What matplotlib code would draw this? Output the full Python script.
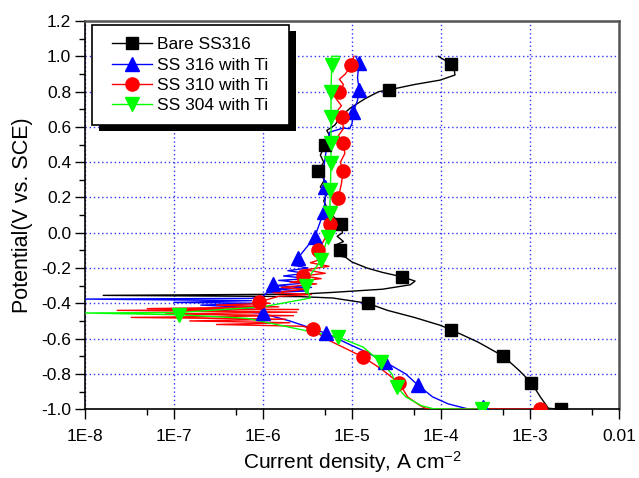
import numpy as np
import matplotlib
matplotlib.use("Agg")
import matplotlib.pyplot as plt
from matplotlib.lines import Line2D
from matplotlib.patches import Rectangle

# Potentiodynamic polarization curves: current density (A cm^-2) vs potential (V vs SCE)
series_labels = ["Bare SS316", "SS 316 with Ti", "SS 310 with Ti", "SS 304 with Ti"]

bare_line_i = [2.2e-3, 1.6e-3, 1.3e-3, 1.03e-3, 7.5e-4, 5.0e-4, 2.6e-4, 1.3e-4, 9.7e-5,
               5.0e-5, 2.5e-5, 1.5e-5, 6.1e-6, 2.6e-6, 1.6e-8, 2.6e-6, 6.1e-6, 2.2e-5,
               4.5e-5, 5.1e-5, 3.65e-5, 2.2e-5, 1.47e-5, 1.0e-5, 8.5e-6, 6.5e-6, 8.0e-6,
               7.4e-6, 6.5e-6, 8.0e-6, 6.8e-6, 7.8e-6, 7.5e-6, 6.5e-6, 5.5e-6, 4.8e-6,
               5.2e-6, 4.4e-6, 4.9e-6, 4.15e-6, 4.8e-6, 4.4e-6, 5.0e-6, 5.6e-6, 5.2e-6,
               6.4e-6, 7.5e-6, 9.5e-6, 1.4e-5, 2.0e-5, 2.6e-5, 5.0e-5, 9.7e-5, 1.43e-4,
               1.4e-4, 1.3e-4, 9.3e-5]
bare_line_e = [-1.0, -0.995, -0.93, -0.85, -0.78, -0.70, -0.62, -0.55, -0.524,
               -0.48, -0.44, -0.40, -0.37, -0.362, -0.355, -0.348, -0.338, -0.32,
               -0.295, -0.274, -0.25, -0.225, -0.20, -0.166, -0.14, -0.125, -0.115,
               -0.10, -0.07, -0.05, -0.02, 0.0, 0.05, 0.08, 0.12, 0.18,
               0.22, 0.26, 0.30, 0.35, 0.40, 0.44, 0.50, 0.55, 0.58,
               0.61, 0.66, 0.706, 0.76, 0.80, 0.81, 0.84, 0.865, 0.894,
               0.93, 0.956, 1.0]
bare_mark_i = [2.2e-3, 1.03e-3, 5.0e-4, 1.3e-4, 1.5e-5, 3.65e-5, 7.3e-6, 7.5e-6,
               4.15e-6, 5.0e-6, 2.6e-5, 1.3e-4]
bare_mark_e = [-1.0, -0.85, -0.70, -0.55, -0.40, -0.25, -0.10, 0.05, 0.35, 0.50, 0.81, 0.956]

ss316_line_i = [2.97e-4, 1.94e-4, 1.2e-4, 8.0e-5, 5.5e-5, 4.0e-5, 2.35e-5, 1.5e-5, 1.0e-5,
                5.1e-6, 3.0e-6, 2.0e-6, 1.2e-6, 1.0e-6, 3.0e-7, 8.0e-7, 2.0e-7, 1.0e-6,
                1.0e-7, 7.4e-7, 1.0e-8, 7.4e-7, 1.0e-6, 1.1e-6, 3.2e-6, 1.2e-6, 3.5e-6,
                1.3e-6, 3.0e-6, 1.5e-6, 3.3e-6, 1.7e-6, 3.0e-6, 1.9e-6, 3.2e-6, 2.2e-6,
                2.8e-6, 2.46e-6, 3.0e-6, 3.8e-6, 4.3e-6, 4.8e-6, 5.0e-6, 5.0e-6, 4.7e-6,
                5.0e-6, 5.3e-6, 5.6e-6, 7.9e-6, 9.4e-6, 1.0e-5, 1.03e-5, 1.15e-5, 1.2e-5,
                1.15e-5, 1.2e-5, 1.1e-5]
ss316_line_e = [-1.0, -0.997, -0.97, -0.93, -0.864, -0.80, -0.733, -0.68, -0.64,
                -0.57, -0.53, -0.50, -0.47, -0.456, -0.44, -0.425, -0.41, -0.40,
                -0.395, -0.385, -0.376, -0.372, -0.36, -0.34, -0.33, -0.32, -0.31,
                -0.30, -0.285, -0.27, -0.26, -0.245, -0.23, -0.215, -0.20, -0.185,
                -0.17, -0.143, -0.09, -0.025, 0.05, 0.117, 0.19, 0.26, 0.33,
                0.43, 0.52, 0.57, 0.593, 0.59, 0.62, 0.684, 0.75, 0.81,
                0.88, 0.96, 1.0]
ss316_mark_i = [2.97e-4, 5.5e-5, 2.35e-5, 5.1e-6, 1.0e-6, 1.3e-6, 2.46e-6, 3.8e-6,
                4.8e-6, 5.0e-6, 1.03e-5, 1.2e-5, 1.2e-5]
ss316_mark_e = [-0.99, -0.864, -0.733, -0.57, -0.456, -0.29, -0.143, -0.025,
                0.117, 0.26, 0.684, 0.81, 0.962]

ss310_line_i = [1.5e-3, 6.9e-5, 5.8e-5, 4.2e-5, 3.4e-5, 2.1e-5, 1.33e-5, 8.0e-6, 5.0e-6,
                3.6e-6, 2.8e-6, 3.0e-7, 2.0e-6, 1.5e-7, 1.8e-6, 3.3e-8, 2.2e-6, 8.0e-8,
                2.4e-6, 2.3e-8, 2.5e-6, 5.0e-8, 1.5e-6, 3.0e-7, 1.2e-6, 9.0e-7, 1.5e-6,
                3.5e-6, 1.3e-6, 3.0e-6, 1.6e-6, 4.0e-6, 2.0e-6, 4.5e-6, 2.8e-6, 5.0e-6,
                3.0e-6, 5.5e-6, 3.4e-6, 4.5e-6, 3.8e-6, 4.15e-6, 5.0e-6, 5.6e-6, 6.5e-6,
                7.0e-6, 7.6e-6, 7.9e-6, 7.4e-6, 8.3e-6, 7.9e-6, 7.0e-6, 8.0e-6, 7.7e-6,
                6.8e-6, 7.6e-6, 6.6e-6, 7.2e-6, 8.0e-6, 7.2e-6, 8.4e-6, 9.8e-6, 1.05e-5]
ss310_line_e = [-1.0, -0.998, -0.98, -0.93, -0.853, -0.77, -0.705, -0.65, -0.60,
                -0.546, -0.53, -0.52, -0.51, -0.50, -0.49, -0.48, -0.47, -0.46,
                -0.45, -0.44, -0.435, -0.43, -0.42, -0.41, -0.40, -0.393, -0.36,
                -0.35, -0.34, -0.32, -0.31, -0.29, -0.28, -0.26, -0.245, -0.23,
                -0.21, -0.19, -0.17, -0.15, -0.13, -0.10, -0.03, 0.05, 0.13,
                0.197, 0.28, 0.35, 0.40, 0.45, 0.51, 0.55, 0.59, 0.655,
                0.69, 0.72, 0.76, 0.80, 0.84, 0.87, 0.90, 0.95, 1.0]
ss310_mark_i = [1.3e-3, 3.4e-5, 1.33e-5, 3.6e-6, 9.0e-7, 2.8e-6, 4.15e-6, 5.6e-6,
                7.0e-6, 7.9e-6, 7.9e-6, 7.7e-6, 7.2e-6, 9.8e-6]
ss310_mark_e = [-1.0, -0.853, -0.705, -0.546, -0.393, -0.245, -0.10, 0.05,
                0.197, 0.35, 0.51, 0.655, 0.80, 0.95]

ss304_line_i = [2.9e-4, 8.2e-5, 6.0e-5, 4.0e-5, 3.2e-5, 2.8e-5, 2.1e-5, 1.33e-5, 6.9e-6,
                3.6e-6, 6.6e-7, 1.14e-7, 1.0e-8, 1.14e-7, 1.0e-6, 3.4e-6, 3.0e-6, 3.5e-6,
                4.5e-6, 5.3e-6, 5.6e-6, 5.7e-6, 5.8e-6, 5.8e-6, 5.8e-6, 5.8e-6, 5.9e-6,
                5.9e-6, 7.2e-6, 7.2e-6]
ss304_line_e = [-1.0, -0.998, -0.98, -0.93, -0.875, -0.80, -0.733, -0.648, -0.59,
                -0.563, -0.485, -0.465, -0.455, -0.452, -0.42, -0.37, -0.30, -0.23,
                -0.155, -0.025, 0.11, 0.24, 0.395, 0.51, 0.655, 0.80, 0.95,
                1.0, 1.0, 0.99]
ss304_mark_i = [2.9e-4, 3.2e-5, 2.1e-5, 6.9e-6, 1.14e-7, 3.0e-6, 4.5e-6, 5.3e-6,
                5.6e-6, 5.7e-6, 5.8e-6, 5.8e-6, 5.8e-6, 5.8e-6, 5.9e-6]
ss304_mark_e = [-1.0, -0.875, -0.733, -0.59, -0.465, -0.30, -0.155, -0.025,
                0.11, 0.24, 0.395, 0.51, 0.655, 0.80, 0.95]

x_ticks = [1e-8, 1e-7, 1e-6, 1e-5, 1e-4, 1e-3, 1e-2]
x_tick_labels = ["1E-8", "1E-7", "1E-6", "1E-5", "1E-4", "1E-3", "0.01"]
y_ticks = [-1.0, -0.8, -0.6, -0.4, -0.2, 0.0, 0.2, 0.4, 0.6, 0.8, 1.0, 1.2]

plt.rcParams["font.family"] = ["Liberation Sans", "DejaVu Sans"]
plt.rcParams["mathtext.fontset"] = "custom"
plt.rcParams["mathtext.rm"] = "Liberation Sans"
plt.rcParams["mathtext.it"] = "Liberation Sans:italic"
plt.rcParams["mathtext.default"] = "regular"

fig = plt.figure(figsize=(6.39, 4.78), dpi=100)
ax = fig.add_axes([0.133, 0.144, 0.836, 0.812])

curves = [
    (bare_line_i, bare_line_e, bare_mark_i, bare_mark_e, "black", "s", 9),
    (ss316_line_i, ss316_line_e, ss316_mark_i, ss316_mark_e, "#0000ff", "^", 10),
    (ss310_line_i, ss310_line_e, ss310_mark_i, ss310_mark_e, "#ff0000", "o", 9.5),
    (ss304_line_i, ss304_line_e, ss304_mark_i, ss304_mark_e, "#00ff00", "v", 10),
]

handles = []
for (li, le, mi, me, color, marker, size), label in zip(curves, series_labels):
    ax.plot(li, le, color=color, linewidth=1.0, zorder=3)
    ax.plot(mi, me, linestyle="none", marker=marker, markersize=size,
            color=color, markeredgecolor=color, zorder=4)
    handles.append(Line2D([], [], color=color, linewidth=1.0, marker=marker,
                          markersize=size, markeredgecolor=color, label=label))

ax.set_xscale("log")
ax.set_xlim(1e-8, 1e-2)
ax.set_ylim(-1.0, 1.2)

ax.set_xticks(x_ticks)
ax.set_xticklabels(x_tick_labels)
ax.set_xticks([5 * t for t in x_ticks[:-1]], minor=True)
ax.xaxis.set_minor_formatter(matplotlib.ticker.NullFormatter())
ax.set_yticks(y_ticks)
ax.set_yticklabels([f"{v:.1f}" for v in y_ticks])
ax.set_yticks(np.arange(-0.9, 1.2, 0.2), minor=True)

ax.tick_params(which="major", direction="out", length=7, width=1.0,
               labelsize=12.5, top=False, right=False)
ax.tick_params(which="minor", direction="out", length=4, width=1.0,
               top=False, right=False)
ax.tick_params(axis="x", which="major", pad=7)
ax.tick_params(axis="y", which="major", pad=3)

ax.grid(True, which="major", color="#3333ff", linestyle=(0, (1, 2)), linewidth=1.0)
ax.set_axisbelow(True)

for side in ("left", "bottom"):
    ax.spines[side].set_linewidth(1.2)
    ax.spines[side].set_color("black")
for side in ("top", "right"):
    ax.spines[side].set_linewidth(1.8)
    ax.spines[side].set_color("#555555")

ax.set_xlabel("Current density, A cm$^{-2}$", fontsize=15, labelpad=4)
ax.set_ylabel("Potential(V vs. SCE)", fontsize=15.5)
ax.yaxis.set_label_coords(-0.097, 0.5)

leg = ax.legend(handles=handles, loc="upper left", bbox_to_anchor=(0.028, 0.99),
                fontsize=12.5, frameon=False, handlelength=2.3, handletextpad=0.3,
                labelspacing=0.3, borderpad=0.7, borderaxespad=0.0)
leg.set_zorder(7)

# legend frame drawn by hand so it can be padded wider, plus a solid drop shadow
fig.canvas.draw()
box = leg.get_window_extent().transformed(ax.transAxes.inverted())
px = 1.0 / ax.bbox.width
py = 1.0 / ax.bbox.height
fx0 = box.x0 - 8 * px
fw = box.width + 16 * px
ax.add_patch(Rectangle((fx0 + 7 * px, box.y0 - 6 * py), fw, box.height,
                       transform=ax.transAxes, facecolor="black", edgecolor="none",
                       zorder=5.5, clip_on=False))
ax.add_patch(Rectangle((fx0, box.y0), fw, box.height,
                       transform=ax.transAxes, facecolor="white", edgecolor="black",
                       linewidth=1.2, zorder=6, clip_on=False))

fig.savefig("out.png", dpi=100)
